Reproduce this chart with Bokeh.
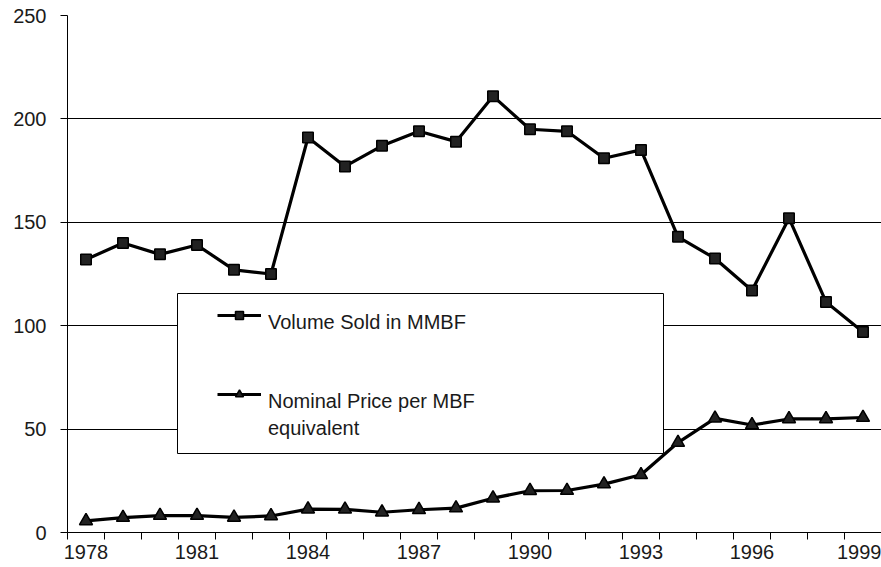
from bokeh.plotting import figure
from bokeh.models import (Range1d, FixedTicker, Legend, LegendItem, BoxAnnotation)
from bokeh.embed import file_html
from bokeh.resources import INLINE

years = list(range(1978, 2000))
volume = [132, 140, 134.5, 139, 127, 125, 191, 177, 187, 194, 189, 211,
          195, 194, 181, 185, 143, 132.5, 117, 152, 111.5, 97]
price = [5.6, 7.2, 8.2, 8.2, 7.3, 8.0, 11.3, 11.2, 9.8, 11.0, 11.8, 16.6,
         20.2, 20.3, 23.4, 27.9, 43.5, 55.2, 52.0, 54.9, 54.9, 55.6]
x_tick_labels = [1978, 1981, 1984, 1987, 1990, 1993, 1996, 1999]
y_ticks = [0, 50, 100, 150, 200, 250]
series_names = ["Volume Sold in MMBF", "Nominal Price per MBF"]
series_name_cont = "equivalent"

FONT = "Liberation Sans"
TXT = "#1a1a1a"

p = figure(width=881, height=567, output_backend="svg", toolbar_location=None,
           x_range=Range1d(years[0] - 0.5, years[-1] + 0.5),
           y_range=Range1d(0, 250),
           min_border_left=67, min_border_right=0, min_border_top=15,
           min_border_bottom=35)
p.outline_line_color = None
p.background_fill_color = "white"
p.xgrid.visible = False
p.ygrid.ticker = FixedTicker(ticks=y_ticks)
p.ygrid.grid_line_color = "black"
p.ygrid.grid_line_width = 1

# x axis: labels every 3 years, tick marks at category boundaries
xa = p.xaxis[0]
xa.ticker = FixedTicker(ticks=x_tick_labels,
                        minor_ticks=[y - 0.5 for y in years] + [years[-1] + 0.5])
xa.major_tick_in = 0
xa.major_tick_out = 0
xa.minor_tick_in = 0
xa.minor_tick_out = 7
xa.minor_tick_line_color = "black"
xa.axis_line_color = "black"
xa.major_label_standoff = 5
xa.major_label_text_font = FONT
xa.major_label_text_font_size = "20px"
xa.major_label_text_color = TXT

ya = p.yaxis[0]
ya.ticker = FixedTicker(ticks=y_ticks)
ya.major_tick_in = 0
ya.major_tick_out = 7
ya.minor_tick_out = 0
ya.minor_tick_in = 0
ya.major_tick_line_color = "black"
ya.axis_line_color = "black"
ya.major_label_standoff = 14
ya.major_label_text_font = FONT
ya.major_label_text_font_size = "20px"
ya.major_label_text_color = TXT

l1 = p.line(years, volume, line_color="black", line_width=3.2)
s1 = p.scatter(years, volume, marker="square", size=10.5, fill_color="#222222",
               line_color="black", line_width=1.5)
l2 = p.line(years, price, line_color="black", line_width=3.2)
s2 = p.scatter(years, price, marker="triangle", size=13, fill_color="#222222",
               line_color="black", line_width=1.5)

box = BoxAnnotation(left=177, right=663, top=293, bottom=453,
                    left_units="canvas", right_units="canvas",
                    top_units="canvas", bottom_units="canvas",
                    fill_color="white", fill_alpha=1.0,
                    line_color="black", line_alpha=1.0, line_width=1)
p.add_layout(box)

common = dict(orientation="vertical", border_line_color=None,
              background_fill_alpha=0, padding=0, margin=0,
              glyph_width=44, glyph_height=20, label_height=36,
              label_standoff=7, label_text_font=FONT,
              label_text_font_size="20px", label_text_color=TXT)

# legend samples (line + marker), drawn level with the top of the label text
legend_glyphs = Legend(items=[LegendItem(label="", renderers=[l1, s1]),
                              LegendItem(label="", renderers=[l2, s2])],
                       location=(150, 120), spacing=43, **common)
p.add_layout(legend_glyphs, "center")

# legend labels
legend_text = Legend(items=[LegendItem(label=series_names[0], renderers=[]),
                            LegendItem(label=series_names[1], renderers=[])],
                     location=(150, 113), spacing=43, **common)
p.add_layout(legend_text, "center")

legend_cont = Legend(items=[LegendItem(label=series_name_cont, renderers=[])],
                     location=(150, 86), spacing=0, **common)
p.add_layout(legend_cont, "center")

open("out.html", "w").write(file_html(p, INLINE))
